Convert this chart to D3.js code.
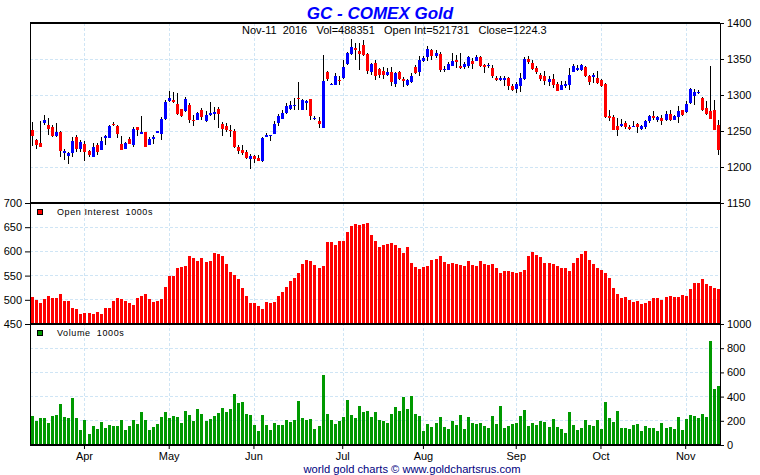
<!DOCTYPE html>
<html><head><meta charset="utf-8">
<script src="https://cdn.jsdelivr.net/npm/d3@7/dist/d3.min.js"></script>
<style>
body{margin:0;background:#fff}
svg{display:block}
text{font-family:"Liberation Sans",Arial,sans-serif}
</style></head>
<body><svg id="chart" width="760" height="475"></svg>
<script>
// ---------- DATA ----------
const dates = [
"2016-03-14","2016-03-15","2016-03-16","2016-03-17","2016-03-18","2016-03-21","2016-03-22","2016-03-23","2016-03-24","2016-03-28","2016-03-29","2016-03-30","2016-03-31",
"2016-04-01","2016-04-04","2016-04-05","2016-04-06","2016-04-07","2016-04-08","2016-04-11","2016-04-12","2016-04-13","2016-04-14","2016-04-15","2016-04-18","2016-04-19","2016-04-20","2016-04-21","2016-04-22","2016-04-25","2016-04-26","2016-04-27","2016-04-28","2016-04-29",
"2016-05-02","2016-05-03","2016-05-04","2016-05-05","2016-05-06","2016-05-09","2016-05-10","2016-05-11","2016-05-12","2016-05-13","2016-05-16","2016-05-17","2016-05-18","2016-05-19","2016-05-20","2016-05-23","2016-05-24","2016-05-25","2016-05-26","2016-05-27","2016-05-31",
"2016-06-01","2016-06-02","2016-06-03","2016-06-06","2016-06-07","2016-06-08","2016-06-09","2016-06-10","2016-06-13","2016-06-14","2016-06-15","2016-06-16","2016-06-17","2016-06-20","2016-06-21","2016-06-22","2016-06-23","2016-06-24","2016-06-27","2016-06-28","2016-06-29","2016-06-30",
"2016-07-01","2016-07-05","2016-07-06","2016-07-07","2016-07-08","2016-07-11","2016-07-12","2016-07-13","2016-07-14","2016-07-15","2016-07-18","2016-07-19","2016-07-20","2016-07-21","2016-07-22","2016-07-25","2016-07-26","2016-07-27","2016-07-28","2016-07-29",
"2016-08-01","2016-08-02","2016-08-03","2016-08-04","2016-08-05","2016-08-08","2016-08-09","2016-08-10","2016-08-11","2016-08-12","2016-08-15","2016-08-16","2016-08-17","2016-08-18","2016-08-19","2016-08-22","2016-08-23","2016-08-24","2016-08-25","2016-08-26","2016-08-29","2016-08-30","2016-08-31",
"2016-09-01","2016-09-02","2016-09-06","2016-09-07","2016-09-08","2016-09-09","2016-09-12","2016-09-13","2016-09-14","2016-09-15","2016-09-16","2016-09-19","2016-09-20","2016-09-21","2016-09-22","2016-09-23","2016-09-26","2016-09-27","2016-09-28","2016-09-29","2016-09-30",
"2016-10-03","2016-10-04","2016-10-05","2016-10-06","2016-10-07","2016-10-10","2016-10-11","2016-10-12","2016-10-13","2016-10-14","2016-10-17","2016-10-18","2016-10-19","2016-10-20","2016-10-21","2016-10-24","2016-10-25","2016-10-26","2016-10-27","2016-10-28","2016-10-31",
"2016-11-01","2016-11-02","2016-11-03","2016-11-04","2016-11-07","2016-11-08","2016-11-09","2016-11-10","2016-11-11"
];

const open = [
1251.4,1237.5,1233.3,1261.1,1257.9,1255.5,1243.0,1249.1,1219.9,1215.3,
1219.9,1241.2,1224.5,1232.0,1222.2,1214.3,1230.5,1223.6,1240.3,1240.7,
1260.2,1256.9,1232.0,1225.5,1238.9,1230.5,1255.1,1246.3,1248.6,1231.0,
1238.9,1248.1,1246.3,1266.7,1291.7,1293.0,1288.0,1280.1,1277.8,1286.1,
1265.3,1265.3,1279.2,1263.9,1272.2,1273.6,1280.5,1259.7,1256.9,1251.4,
1250.0,1227.3,1223.6,1220.8,1211.6,1215.3,1213.0,1208.4,1242.6,1243.5,
1246.2,1261.1,1267.1,1275.0,1280.5,1284.2,1296.2,1279.6,1288.8,1294.9,
1266.2,1264.3,1253.7,1331.4,1314.3,1313.4,1321.2,1323.6,1343.5,1357.4,
1365.2,1361.5,1369.9,1357.4,1331.4,1344.4,1336.1,1333.7,1328.2,1332.4,
1315.7,1332.4,1322.6,1314.3,1318.5,1338.8,1332.4,1347.6,1352.3,1362.9,
1353.7,1357.4,1335.1,1335.1,1340.7,1348.1,1340.7,1338.8,1339.8,1347.6,
1347.6,1352.3,1342.1,1339.8,1337.9,1324.0,1320.3,1320.8,1324.0,1312.0,
1308.3,1312.9,1322.2,1350.4,1344.4,1337.9,1328.2,1326.8,1317.5,1322.6,
1315.2,1307.4,1312.0,1313.4,1332.4,1335.1,1335.1,1338.8,1326.8,1325.0,
1324.0,1321.2,1315.7,1271.2,1269.9,1257.4,1257.4,1261.1,1255.0,1255.5,
1260.1,1252.7,1255.5,1263.4,1271.2,1265.7,1267.5,1264.8,1274.0,1265.7,
1268.9,1278.7,1276.8,1288.8,1298.1,1302.3,1295.3,1282.4,1277.3,1278.7,
1258.7
];
const high = [
1262.9,1238.9,1264.0,1272.2,1267.6,1258.3,1261.6,1250.0,1224.5,1221.3,
1241.2,1244.0,1237.5,1236.6,1223.6,1232.9,1232.9,1242.1,1244.4,1258.3,
1262.0,1258.3,1243.0,1235.2,1241.2,1256.0,1256.0,1270.8,1249.1,1241.2,
1244.4,1250.5,1269.0,1293.0,1305.5,1304.6,1302.3,1280.1,1296.8,1288.4,
1272.2,1276.8,1281.5,1278.2,1289.8,1283.8,1282.9,1262.9,1260.6,1258.3,
1252.3,1230.5,1230.5,1223.6,1218.1,1216.7,1216.2,1242.1,1246.7,1244.9,
1264.3,1274.0,1278.7,1288.8,1291.2,1295.8,1317.5,1294.4,1292.5,1294.9,
1270.3,1269.4,1356.0,1332.8,1316.6,1330.5,1325.9,1348.1,1359.2,1377.5,
1372.2,1372.2,1377.0,1358.3,1344.4,1348.1,1337.4,1338.4,1337.4,1338.8,
1331.4,1333.7,1325.0,1322.2,1330.5,1342.1,1353.7,1353.7,1367.5,1363.8,
1362.9,1359.2,1339.8,1345.3,1358.3,1356.0,1358.3,1346.2,1354.6,1351.3,
1356.0,1353.7,1343.5,1344.4,1342.1,1326.8,1326.8,1325.9,1325.0,1315.7,
1317.5,1330.5,1352.7,1354.6,1348.1,1339.8,1330.5,1332.8,1326.8,1328.7,
1318.0,1318.9,1318.9,1337.4,1343.5,1342.1,1342.5,1339.8,1328.2,1330.5,
1332.8,1322.2,1316.6,1279.6,1272.6,1268.0,1266.6,1263.4,1258.7,1264.3,
1261.1,1258.7,1265.7,1272.6,1277.3,1271.2,1272.6,1277.3,1278.7,1272.6,
1285.1,1279.6,1291.2,1309.7,1308.3,1307.4,1297.2,1291.2,1339.8,1293.5,
1265.7
];
const low = [
1229.2,1224.5,1227.3,1258.3,1244.4,1241.2,1241.2,1214.3,1209.7,1204.6,
1214.3,1221.3,1221.3,1208.8,1214.3,1214.3,1216.7,1223.6,1230.5,1239.8,
1256.9,1240.7,1223.6,1225.5,1232.0,1228.2,1243.0,1245.8,1227.3,1231.0,
1232.0,1247.7,1237.5,1265.3,1290.7,1289.3,1272.2,1269.9,1276.8,1260.6,
1257.4,1265.3,1265.3,1262.0,1270.8,1265.3,1254.6,1243.0,1249.1,1242.1,
1225.9,1217.6,1216.7,1211.1,1197.7,1205.1,1208.4,1206.5,1241.2,1235.6,
1246.2,1257.4,1266.6,1274.0,1278.7,1278.7,1279.6,1279.6,1279.6,1265.7,
1264.8,1254.1,1253.7,1318.9,1313.4,1313.4,1314.3,1322.2,1342.1,1356.0,
1349.0,1335.1,1354.6,1329.6,1328.2,1320.3,1323.6,1322.2,1325.9,1312.0,
1310.6,1320.3,1311.1,1312.9,1316.6,1329.6,1325.9,1345.3,1346.7,1349.0,
1351.3,1331.4,1331.4,1335.1,1339.8,1337.4,1336.1,1336.1,1337.4,1336.1,
1346.7,1338.8,1330.5,1337.4,1323.6,1318.9,1318.9,1312.9,1307.4,1305.0,
1302.7,1303.7,1321.2,1343.5,1335.1,1329.6,1318.9,1314.3,1312.0,1309.7,
1305.0,1306.4,1309.7,1306.4,1331.4,1332.8,1333.3,1325.0,1314.3,1316.6,
1315.7,1311.1,1268.0,1263.4,1250.9,1242.5,1255.5,1252.7,1250.9,1255.5,
1247.2,1250.9,1252.7,1261.1,1265.7,1262.0,1258.7,1263.4,1263.4,1264.8,
1261.1,1271.2,1275.0,1287.9,1286.5,1301.3,1277.7,1272.6,1267.1,1250.9,
1217.1
];
const close = [
1243.0,1230.1,1227.3,1265.3,1253.2,1243.0,1248.6,1222.7,1222.7,1219.4,
1236.1,1224.5,1235.2,1221.3,1216.7,1227.3,1221.3,1236.6,1243.0,1256.9,
1259.3,1245.8,1223.6,1233.8,1232.0,1252.8,1251.4,1249.1,1227.3,1238.4,
1242.1,1249.5,1266.2,1290.3,1296.3,1290.7,1273.6,1270.8,1294.4,1265.3,
1263.9,1275.5,1269.9,1272.2,1274.5,1276.4,1273.6,1253.2,1251.4,1250.5,
1227.3,1222.7,1219.0,1213.0,1215.3,1211.1,1208.8,1240.7,1244.0,1244.9,
1260.1,1271.2,1275.0,1285.1,1286.5,1286.5,1295.3,1293.5,1291.2,1270.3,
1268.5,1260.1,1319.9,1322.2,1315.7,1326.8,1320.3,1338.8,1358.3,1366.6,
1362.0,1357.4,1356.0,1333.7,1343.5,1326.8,1327.3,1328.2,1332.4,1318.5,
1330.5,1322.6,1318.9,1321.2,1326.8,1330.5,1349.0,1351.8,1364.3,1354.6,
1358.3,1335.1,1336.5,1342.5,1347.6,1345.3,1337.9,1343.5,1352.7,1343.5,
1352.7,1340.7,1338.8,1342.1,1325.9,1320.3,1323.1,1324.0,1312.0,1307.4,
1315.2,1323.6,1350.4,1345.3,1336.1,1332.4,1322.2,1318.9,1322.6,1313.4,
1305.0,1314.3,1315.2,1328.2,1340.7,1337.9,1341.2,1325.9,1318.5,1327.7,
1316.6,1312.0,1269.4,1267.5,1251.8,1250.9,1260.1,1255.5,1252.7,1257.4,
1255.5,1257.4,1263.4,1270.3,1267.5,1268.9,1263.4,1274.0,1265.7,1270.3,
1277.3,1272.6,1287.9,1308.7,1303.7,1304.6,1278.7,1274.0,1267.1,1251.8,
1224.3
];
// Open interest, 1000s
const openInterest = [
506,500,494,502,508,504,504,511,498,498,
484,481,471,473,473,471,475,471,483,483,
498,504,502,498,494,490,504,507,513,502,
496,498,502,526,549,549,566,568,570,591,
587,580,586,578,580,597,595,591,574,557,
551,543,524,508,493,493,487,481,495,493,
495,508,516,526,539,545,555,574,582,580,
572,566,570,619,619,613,622,622,640,653,
657,655,657,659,634,622,609,613,615,617,
613,607,597,609,576,568,564,568,570,582,
584,591,578,574,576,574,572,570,580,572,
570,580,574,572,574,566,555,560,560,557,
555,557,562,591,599,593,588,576,576,574,
570,566,566,560,576,586,595,601,582,574,
566,562,555,545,524,512,504,506,500,495,
498,491,493,498,504,504,500,506,508,506,
506,510,508,522,535,535,543,533,529,524,
522
];
// Volume, 1000s
const volume = [
240,198,223,223,182,240,248,339,231,223,
388,223,124,207,91,157,132,190,140,165,
157,157,207,124,157,207,173,273,207,124,
149,173,231,273,223,240,231,182,281,248,
198,297,256,198,215,240,264,306,273,297,
421,347,355,256,248,165,116,248,165,124,
182,165,165,207,190,207,364,223,207,215,
132,157,578,256,207,173,198,231,372,248,
223,322,273,281,231,273,207,198,182,256,
314,281,397,297,405,256,240,116,173,149,
182,231,149,132,198,165,248,132,231,182,
173,182,157,140,240,173,322,140,157,173,
182,240,289,157,182,165,198,190,149,215,
149,132,99,273,165,124,140,207,165,157,
207,132,355,223,190,281,140,140,132,165,
173,116,157,140,140,116,182,140,149,132,
231,124,215,248,240,223,256,231,859,463,
488
];
const monthTicks = ["2016-04-01","2016-05-02","2016-06-01","2016-07-01","2016-08-01","2016-09-01","2016-10-03","2016-11-01"];
const monthLabels = ["Apr","May","Jun","Jul","Aug","Sep","Oct","Nov"];
const priceTicks = [1150,1200,1250,1300,1350,1400];
const oiTicks = [450,500,550,600,650,700];
const volTicks = [0,200,400,600,800,1000];

const titleText = "GC - COMEX Gold";
const infoText = "Nov-11  2016   Vol=488351   Open Int=521731   Close=1224.3";
const footerText = "world gold charts \u00A9 www.goldchartsrus.com";

// ---------- LAYOUT ----------
const L = 30, R = 720;
const pTop = 23, pBot = 203, oBot = 324, vBot = 445;
const svg = d3.select("#chart");

const x = d3.scaleBand().domain(dates).range([L, R]).padding(0);
const bw = x.bandwidth();
const cx = d => x(d) + bw / 2;
const yP = d3.scaleLinear().domain([1150, 1400]).range([pBot, pTop]);
const yO = d3.scaleLinear().domain([450, 700]).range([oBot, pBot]);
const yV = d3.scaleLinear().domain([0, 1000]).range([vBot, oBot]);

const gridColor = "#cfe5f5";
const grid = svg.append("g").attr("stroke", gridColor).attr("stroke-dasharray", "3,2").attr("shape-rendering", "crispEdges");
[[priceTicks.slice(1, -1), yP], [oiTicks.slice(1, -1), yO], [volTicks.slice(1, -1), yV]].forEach(([vals, s]) => {
  grid.selectAll(null).data(vals).enter().append("line")
    .attr("x1", L).attr("x2", R).attr("y1", d => s(d)).attr("y2", d => s(d));
});
grid.selectAll(null).data(monthTicks).enter().append("line")
  .attr("x1", d => Math.round(cx(d)) + 0.5).attr("x2", d => Math.round(cx(d)) + 0.5)
  .attr("y1", pTop).attr("y2", vBot);

// ---------- CANDLES ----------
const idx = d3.range(dates.length);
const cg = svg.append("g").attr("shape-rendering", "crispEdges");
cg.selectAll("line.wick").data(idx).enter().append("line")
  .attr("class", "wick")
  .attr("x1", i => Math.round(cx(dates[i])) + 0.5).attr("x2", i => Math.round(cx(dates[i])) + 0.5)
  .attr("y1", i => yP(high[i])).attr("y2", i => yP(low[i]))
  .attr("stroke", "#000").attr("stroke-width", 1);
cg.selectAll("rect.body").data(idx).enter().append("rect")
  .attr("class", "body")
  .attr("x", i => Math.round(cx(dates[i])) - 1)
  .attr("width", 3)
  .attr("y", i => yP(Math.max(open[i], close[i])))
  .attr("height", i => Math.max(1.5, Math.abs(yP(open[i]) - yP(close[i]))))
  .attr("fill", i => close[i] >= open[i] ? "#0000ff" : "#ff0000");

// ---------- OPEN INTEREST ----------
svg.append("g").attr("shape-rendering", "crispEdges")
  .selectAll("rect").data(idx).enter().append("rect")
  .attr("x", i => Math.round(cx(dates[i])) - 1)
  .attr("width", 3)
  .attr("y", i => yO(openInterest[i]))
  .attr("height", i => oBot - yO(openInterest[i]))
  .attr("fill", "#ff0000");

// ---------- VOLUME ----------
svg.append("g").attr("shape-rendering", "crispEdges")
  .selectAll("rect").data(idx).enter().append("rect")
  .attr("x", i => Math.round(cx(dates[i])) - 1)
  .attr("width", 3)
  .attr("y", i => yV(volume[i]))
  .attr("height", i => vBot - yV(volume[i]))
  .attr("fill", "#009900");

// ---------- FRAME ----------
const fr = svg.append("g").attr("stroke", "#000").attr("shape-rendering", "crispEdges");
[pTop, pBot, oBot, vBot].forEach(y => fr.append("line").attr("x1", L).attr("x2", R).attr("y1", y).attr("y2", y).attr("stroke-width", 1.5));
[L, R].forEach(xx => fr.append("line").attr("x1", xx).attr("x2", xx).attr("y1", pTop).attr("y2", vBot));

// ---------- AXES ----------
function styleAxis(g) {
  g.select(".domain").remove();
  g.selectAll("text").attr("font-family", "Liberation Sans, Arial, sans-serif").attr("font-size", 11).attr("fill", "#000");
  g.selectAll("line").attr("stroke", "#000");
}
svg.append("g").attr("transform", `translate(${R},0)`)
  .call(d3.axisRight(yP).tickValues(priceTicks).tickSize(4).tickPadding(3).tickFormat(d3.format("d")))
  .call(styleAxis);
svg.append("g").attr("transform", `translate(${R},0)`)
  .call(d3.axisRight(yV).tickValues(volTicks).tickSize(4).tickPadding(3).tickFormat(d3.format("d")))
  .call(styleAxis);
svg.append("g").attr("transform", `translate(${L},0)`)
  .call(d3.axisLeft(yO).tickValues(oiTicks).tickSize(5).tickPadding(3).tickFormat(d3.format("d")))
  .call(styleAxis);
const xAxis = d3.axisBottom(x).tickValues(monthTicks).tickSize(4).tickPadding(3)
  .tickFormat(d => monthLabels[monthTicks.indexOf(d)]);
svg.append("g").attr("transform", `translate(0,${vBot})`).call(xAxis).call(styleAxis);

// ---------- LEGENDS ----------
function legend(y, color, label) {
  svg.append("rect").attr("x", 37.5).attr("y", y - 5.5).attr("width", 5).attr("height", 5)
    .attr("fill", color).attr("stroke", "#000").attr("stroke-width", 1);
  svg.append("text").attr("x", 57).attr("y", y).attr("font-family", "DejaVu Sans, Verdana, sans-serif")
    .attr("font-size", 9).attr("letter-spacing", 0.6).attr("fill", "#000")
    .style("white-space", "pre").text(label);
}
legend(215, "#ff0000", "Open Interest  1000s");
legend(336, "#009900", "Volume  1000s");

// ---------- TITLES ----------
svg.append("text").attr("x", 380).attr("y", 19).attr("text-anchor", "middle")
  .attr("font-size", 17).attr("font-weight", "bold").attr("font-style", "italic").attr("fill", "#0000ff")
  .text(titleText);
svg.append("text").attr("x", 242).attr("y", 34).attr("font-size", 11).attr("fill", "#000")
  .style("white-space", "pre").text(infoText);
svg.append("text").attr("x", 412).attr("y", 473).attr("text-anchor", "middle")
  .attr("font-size", 11.2).attr("fill", "#000080").text(footerText);
</script>
</body></html>
